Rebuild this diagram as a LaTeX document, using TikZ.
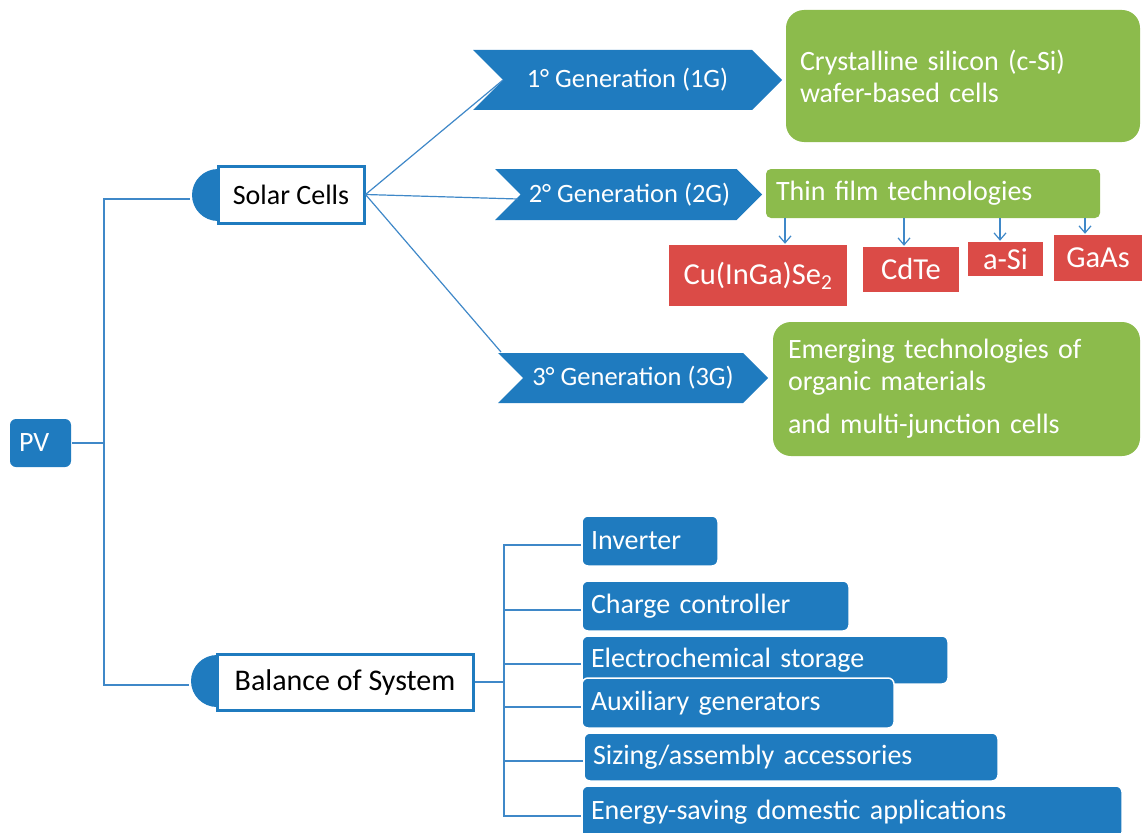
\documentclass[tikz,border=0pt]{standalone}
\usepackage{fontspec}
\setmainfont{Carlito}
\usetikzlibrary{arrows.meta}
\definecolor{pvblue}{HTML}{1F7BBF}
\definecolor{pvgreen}{HTML}{8CBB4C}
\definecolor{pvred}{HTML}{DB4B47}
\definecolor{lineblue}{HTML}{3F88C8}
\newcommand{\chevronshape}[4]{%
  \fill[pvblue] (#1,#2) -- ({#4-(#3-#2)/2},#2) -- (#4,{(#2+#3)/2}) -- ({#4-(#3-#2)/2},#3) -- (#1,#3) -- ({#1+(#3-#2)/2},{(#2+#3)/2}) -- cycle;}
\tikzset{
  conn/.style={draw=lineblue, line width=1.2pt},
  arr/.style={draw=lineblue, line width=1.2pt, -{Straight Barb[length=7pt,width=12pt]}, shorten >=1pt},
  bosbox/.style={fill=pvblue, draw=white, line width=1.5pt, rounded corners=6pt, text=white,
    inner xsep=9pt, inner ysep=0pt, align=left, font=\fontsize{28}{32}\selectfont},
  headbox/.style={fill=white, draw=pvblue, line width=3pt, text=black, inner sep=0pt,
    font=\fontsize{28}{32}\selectfont},
  half/.style={circle, fill=pvblue, inner sep=0pt, minimum size=52pt},
  gentext/.style={text=white, inner sep=0pt, font=\fontsize{26.5}{30}\selectfont},
  greenbox/.style={fill=pvgreen, draw=none, text=white, inner ysep=0pt, align=left,
    font=\fontsize{28}{32}\selectfont},
  redbox/.style={fill=pvred, draw=none, text=white, inner sep=0pt,
    font=\fontsize{30.5}{34}\selectfont},
}
\begin{document}
\begin{tikzpicture}[x=1pt,y=-1pt]
\useasboundingbox (0,0) rectangle (1142,832);

% root
\node[bosbox, rounded corners=6pt, draw=none, text width=43pt, minimum height=48pt] (pv) at (40.5,443) {PV};

% level 1
\node[half] (scc) at (218,195) {};
\node[headbox, minimum width=146pt, minimum height=57pt] (sc) at (291,194.5) {Solar Cells};
\node[half] (bosc) at (217,681) {};
\node[headbox, minimum width=256pt, minimum height=56pt, font=\fontsize{30}{34}\selectfont] (bos) at (345,682) {Balance of System};

\coordinate (pj) at (104,443);
\draw[conn] (pv.east) -- (pj);
\draw[conn] (pj) |- ([yshift=-4pt,xshift=-2pt]scc.west);
\draw[conn] (pj) |- ([yshift=-4pt,xshift=-2pt]bosc.west);

% generations
\chevronshape{473}{50}{110}{782}
\node[gentext] (g1) at (627.5,80) {1° Generation (1G)};
\chevronshape{495}{169}{220}{762}
\node[gentext] (g2) at (629.5,194.5) {2° Generation (2G)};
\chevronshape{498}{353}{403}{768}
\node[gentext] (g3) at (633,378) {3° Generation (3G)};
\coordinate (n1) at (503,80);
\coordinate (n2) at (518,199);
\coordinate (n3) at (501,352);
\draw[conn] (sc.east) -- (n1);
\draw[conn] (sc.east) -- (n2);
\draw[conn] (sc.east) -- (n3);

% green boxes
\node[greenbox, rounded corners=18pt, inner xsep=14pt, text width=326pt, minimum height=132pt] (cs) at (963,76)
  {Crystalline silicon (c-Si)\\wafer-based cells};
\node[greenbox, rounded corners=5pt, inner xsep=10pt, text width=314pt, minimum height=49pt] (tf) at (933,193.5)
  {Thin film technologies};
\node[greenbox, rounded corners=18pt, inner xsep=15pt, text width=337pt, minimum height=134pt] (em) at (956.5,389)
  {Emerging technologies of\\organic materials\\[11pt]and multi-junction cells};

% red boxes
\node[redbox, minimum width=178pt, minimum height=61pt] (cu) at (758,275.5) {Cu(InGa)Se\textsubscript{2}};
\node[redbox, minimum width=96pt, minimum height=45pt] (cd) at (911,269.5) {CdTe};
\node[redbox, minimum width=75pt, minimum height=34pt] (as) at (1005.5,259) {a-Si};
\node[redbox, minimum width=88pt, minimum height=46pt] (ga) at (1098,258) {GaAs};
\coordinate (a1) at (785,0);
\coordinate (a2) at (904,0);
\coordinate (a3) at (1000,0);
\coordinate (a4) at (1085,0);
\draw[arr] (tf.south -| a1) -- (cu.north -| a1);
\draw[arr] (tf.south -| a2) -- (cd.north -| a2);
\draw[arr] (tf.south -| a3) -- (as.north -| a3);
\draw[arr] (tf.south -| a4) -- (ga.north -| a4);

% balance of system items
\node[bosbox, text width=118pt, minimum height=50pt] (inv) at (650,541) {Inverter};
\node[bosbox, text width=249pt, minimum height=50pt] (cc) at (715.5,606) {Charge controller};
\node[bosbox, text width=348pt, minimum height=48pt] (es) at (765,660) {Electrochemical storage};
\node[bosbox, text width=294pt, minimum height=50pt] (ag) at (738,703) {Auxiliary generators};
\node[bosbox, text width=396pt, minimum height=48pt] (sz) at (791,757) {Sizing/assembly accessories};
\node[bosbox, text width=522pt, minimum height=52pt] (en) at (852,812) {Energy-saving domestic applications};

\coordinate (bj) at (504,682);
\draw[conn] (bos.east) -- (bj);
\foreach \b in {inv,cc,es,ag,sz,en}{
  \draw[conn] (bj) |- ([yshift=-4pt]\b.west);
}
\end{tikzpicture}
\end{document}
